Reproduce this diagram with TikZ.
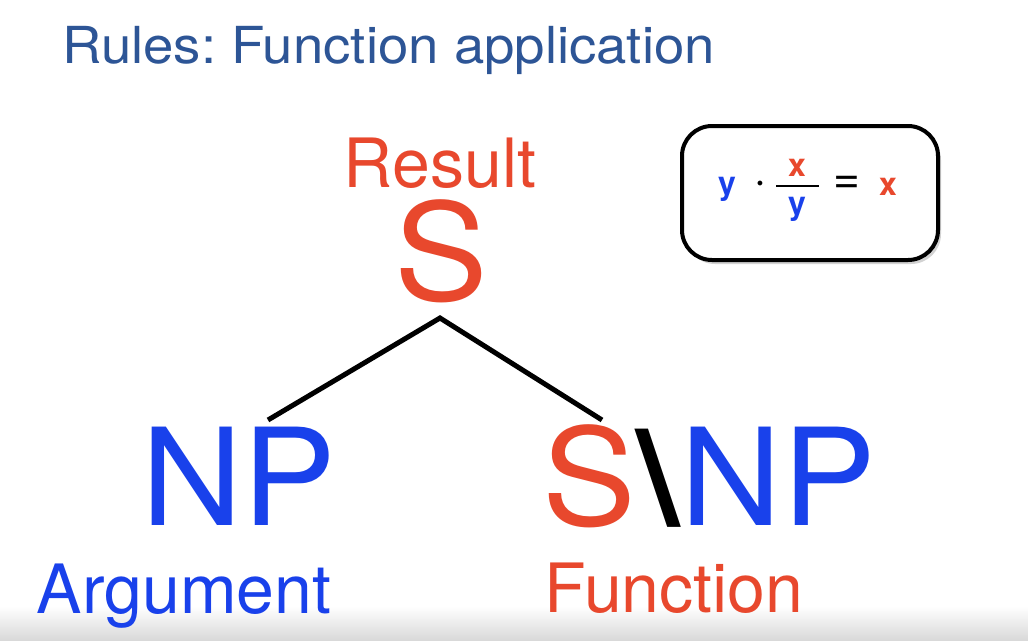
\documentclass[tikz,border=0pt]{standalone}
\usepackage{fontspec}
\setmainfont{TeX Gyre Heros}
\usetikzlibrary{shadows}
\definecolor{titleblue}{HTML}{2D5596}
\definecolor{catred}{HTML}{E8482D}
\definecolor{catblue}{HTML}{1941EB}
\newcommand{\fsz}[1]{\fontsize{#1}{#1}\selectfont}
\frenchspacing
\begin{document}
\begin{tikzpicture}[x=1pt,y=-1pt,
  lbl/.style={inner sep=0pt, anchor=base},
  title/.style={lbl, anchor=base west, text=titleblue, font=\fsz{51},
    xscale=1.07, transform shape},
  role/.style={lbl, font=\fsz{68}},
  cat/.style={lbl, font=\fsz{135}, xscale=1.04, transform shape},
  branch/.style={line width=5pt, black},
  rulebox/.style={draw=black, line width=4pt, rounded corners=30pt, fill=white,
    minimum width=256pt, minimum height=134pt,
    drop shadow={shadow xshift=3pt, shadow yshift=-4pt, opacity=0.35}},
  sym/.style={inner sep=0pt, font=\bfseries\fsz{32}},
]
\useasboundingbox (0,0) rectangle (1028,640);
\fill[white] (0,0) rectangle (1028,640);
\shade[top color=white, bottom color=black!15] (0,606) rectangle (1028,640);

% heading
\node[title] (heading) at (62,63) {Rules: Function application};

% derivation tree
\node[role, text=catred] (result) at (440,187) {Result};
\node[cat, text=catred] (root) at (441,300) {S};
\node[cat, text=catblue] (arg) at (239,525) {NP};
\node[cat] (fun) at (709,525) {\textcolor{catred}{S}\kern3pt\textcolor{black}{\bfseries\textbackslash}\kern3pt\textcolor{catblue}{NP}};
\node[role, text=catblue] (argname) at (184,613) {Argument};
\node[role, text=catred] (funname) at (674,612) {Function};

\coordinate (apex) at (440,318);
\coordinate (argtop) at (268,420);
\coordinate (funtop) at (602,420);
\draw[branch] (argtop) -- (apex) -- (funtop);

% rule: y . x/y = x
\node[rulebox] (rule) at (810,193) {};
\node[sym, text=catblue] (ya) at (727,189) {y};
\node[sym] (dot) at (760,186) {·};
\node[sym, text=catred] (num) at (797,168) {x};
\node[sym, text=catblue] (den) at (797,209) {y};
\coordinate (barl) at (776,186);
\coordinate (barr) at (819,186);
\draw[line width=1.2pt] (barl) -- (barr);
\node[inner sep=0pt, font=\fsz{46}] (eq) at (847,185) {=};
\node[sym, text=catred] (xr) at (888,187) {x};
\end{tikzpicture}
\end{document}
